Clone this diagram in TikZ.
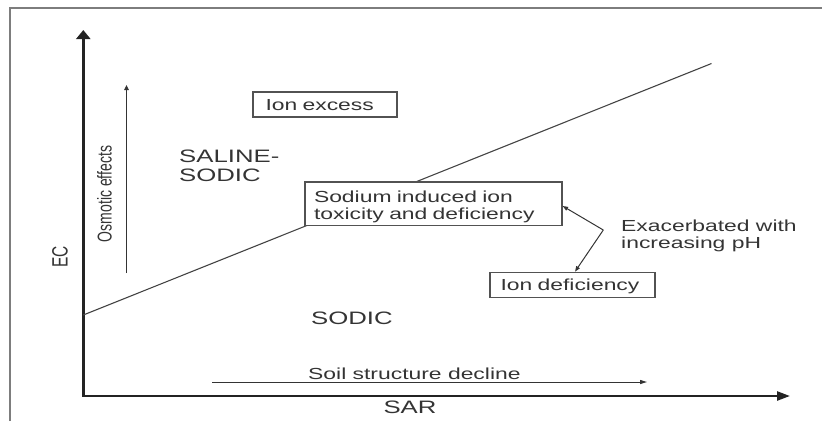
\documentclass[tikz,border=0pt]{standalone}
\usepackage{fontspec}
\setmainfont{Liberation Sans}[FakeStretch=1.43]
\newfontfamily\uprightfont{Liberation Sans}
\usepackage{tikz}
\usetikzlibrary{arrows.meta}
\definecolor{AxisInk}{RGB}{35,35,35}
\definecolor{LabelInk}{RGB}{52,52,52}
\definecolor{FrameGray}{RGB}{125,125,125}
\newcommand{\tallword}[1]{\scalebox{1}[1.43]{#1}}

\begin{document}
\begin{tikzpicture}[x=1pt,y=-1pt,
  lbl/.style={text=LabelInk,inner sep=0pt,font=\fontsize{16}{17}\selectfont},
  big/.style={lbl,font=\fontsize{18}{19}\selectfont},
  turned/.style={lbl,font=\uprightfont\fontsize{#1}{#1}\selectfont,rotate=90},
  box/.style n args={4}{lbl,draw=LabelInk!85,line width=1.2pt,fill=white,align=left,
    minimum width=#1pt,minimum height=#2pt,inner xsep=#3pt,text width=#4pt},
  axis/.style={draw=AxisInk,line width=2.4pt},
  trend/.style={draw=AxisInk!85,line width=1.1pt},
  smallarr/.style={draw=LabelInk,line width=1pt}]
\useasboundingbox (0,0) rectangle (822,421);
\draw[draw=FrameGray,line width=1.8pt] (10,421) |- (822,8);

\coordinate (o) at (83.3,396);
\coordinate (ytop) at (83.3,30);
\coordinate (xend) at (790,396);
\draw[axis,{Triangle[length=9pt,width=14pt]}-{Triangle[length=13pt,width=9pt]}]
   (ytop) -- (o) -- (xend);

\coordinate (ts) at (83.3,315);
\coordinate (te) at (711.5,63.5);
\draw[trend] (ts) -- (te);

\node[turned=15.5] (ec) at (60,257) {\tallword{EC}};
\node[turned=14] (osmo) at (104.5,194) {\tallword{Osmotic effects}};
\coordinate (osb) at (126.5,273);
\coordinate (ost) at (126.5,85);
\draw[smallarr,-{Triangle[length=5pt,width=4.5pt]}] (osb) -- (ost);

\node[big,anchor=north west,align=left] (salsod) at (179,150) {SALINE-\\SODIC};
\node[big,anchor=base west] (sodic) at (311,324) {SODIC};
\node[big,anchor=base] (sar) at (410,413) {SAR};

\node[lbl,anchor=base west] (soil) at (308,379.5) {Soil structure decline};
\coordinate (sa) at (212,382);
\coordinate (sb) at (647,382);
\draw[smallarr,-{Triangle[length=7pt,width=4pt]}] (sa) -- (sb);

\node[box={144}{25}{12.5}{119},text depth=0pt] (ionex) at (325,104.5) {Ion excess};
\node[box={257}{43.5}{9}{239},text height=18pt] (sodium) at (433.5,203.7) {Sodium induced ion\\toxicity and deficiency};
\node[box={165}{25.5}{10.5}{144},text depth=0pt] (iondef) at (572.5,285) {Ion deficiency};

\node[lbl,anchor=north west,align=left] (exac) at (621,219.5) {Exacerbated with\\increasing pH};
\coordinate (ph) at (603.3,230);
\draw[smallarr,-{Triangle[length=5.5pt,width=4pt]}] (ph) -- ([yshift=-2.3pt]sodium.east);
\draw[smallarr,-{Triangle[length=5.5pt,width=4pt]}] (ph) -- ([xshift=2.5pt]iondef.north);
\end{tikzpicture}
\end{document}
